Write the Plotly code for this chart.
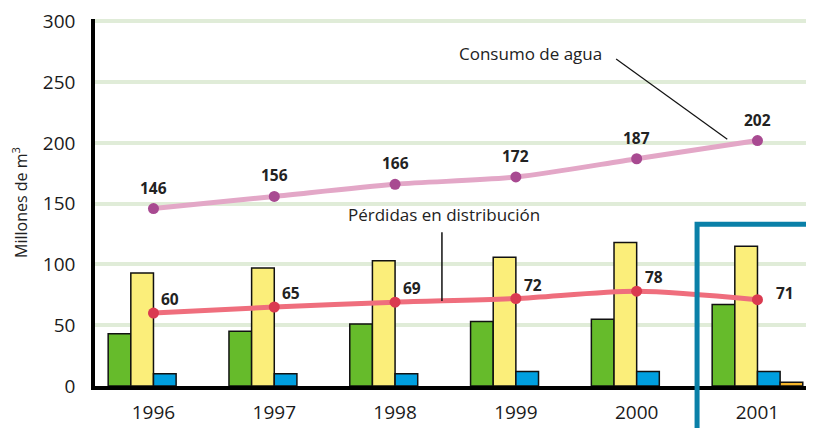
import plotly.graph_objects as go

years = ["1996", "1997", "1998", "1999", "2000", "2001"]
green_vals = [43, 45, 51, 53, 55, 67]
yellow_vals = [93, 97, 103, 106, 118, 115]
blue_vals = [10, 10, 10, 12, 12, 12]
orange_vals = [None, None, None, None, None, 3]
consumo = [146, 156, 166, 172, 187, 202]
perdidas = [60, 65, 69, 72, 78, 71]
y_ticks = [0, 50, 100, 150, 200, 250, 300]

FONT = "Open Sans"
XR = [-0.484, 5.468]
YR = [0, 302]
GRID = "#e0ecd8"

fig = go.Figure()
bar_colors = ["#66bb2b", "#fbee7a", "#009fe0", "#f5b52a"]
for vals, col in zip([green_vals, yellow_vals, blue_vals, orange_vals], bar_colors):
    fig.add_trace(go.Bar(x=years, y=vals, marker=dict(color=col, line=dict(color="#111", width=1.5)),
                         showlegend=False))

fig.add_trace(go.Scatter(x=years, y=consumo, mode="lines+markers",
                         line=dict(color="#e3a7c7", width=5, shape="spline", smoothing=0.8),
                         marker=dict(color="#a84a91", size=11), showlegend=False))
fig.add_trace(go.Scatter(x=years, y=perdidas, mode="lines+markers",
                         line=dict(color="#ef6e7d", width=5, shape="spline", smoothing=0.8),
                         marker=dict(color="#da3a50", size=11), showlegend=False))

annotations = []
for i, v in enumerate(consumo):
    annotations.append(dict(x=i, y=v, text=f"<b>{v}</b>", showarrow=False, yshift=21,
                            font=dict(family=FONT, size=15.5, color="#222")))
red_shift = [(6, 14), (6, 14), (6, 14), (6, 14), (6, 14), (17, 7)]
for i, v in enumerate(perdidas):
    dx, dy = red_shift[i]
    annotations.append(dict(x=i, y=v, text=f"<b>{v}</b>", showarrow=False, xanchor="left",
                            xshift=dx, yshift=dy, font=dict(family=FONT, size=15.5, color="#222")))

annotations.append(dict(x=3.125, y=274, text="Consumo de agua", showarrow=False,
                        font=dict(family=FONT, size=17, color="#222")))
annotations.append(dict(x=2.405, y=141, text="Pérdidas en distribución", showarrow=False,
                        font=dict(family=FONT, size=17, color="#222")))

shapes = [
    dict(type="line", xref="x", yref="y", x0=3.83, y0=269, x1=4.75, y1=203,
         line=dict(color="#111", width=1.2)),
    dict(type="line", xref="x", yref="y", x0=2.388, y0=126.6, x1=2.388, y1=70,
         line=dict(color="#111", width=1.5)),
]
bx = (4.5 - XR[0]) / (XR[1] - XR[0])
by = 133 / (YR[1] - YR[0])
shapes.append(dict(type="path", xref="paper", yref="paper",
                   path=f"M {bx},-0.3 L {bx},{by} L 1.05,{by}",
                   line=dict(color="#0a80a8", width=5)))

# page body keeps the browser's default 8px margin, so the figure is 8px smaller
fig.update_layout(
    width=806, height=420,
    margin=dict(l=87, r=0, t=11, b=42),
    paper_bgcolor="white", plot_bgcolor="white",
    barmode="group", bargap=0.25, bargroupgap=0,
    font=dict(family=FONT, color="#222"),
    annotations=annotations, shapes=shapes,
    xaxis=dict(type="category", range=XR, showgrid=False, zeroline=False, automargin=False,
               showline=True, linecolor="#000", linewidth=4,
               tickfont=dict(family=FONT, size=19, color="#1a1a1a"),
               ticks="", ticklabelstandoff=6),
    yaxis=dict(range=YR, tickvals=y_ticks, showgrid=True, gridcolor=GRID, gridwidth=3.5,
               zeroline=False, showline=True, linecolor="#000", linewidth=3.5, automargin=False,
               tickfont=dict(family=FONT, size=19, color="#1a1a1a"),
               ticks="", ticklabelstandoff=12, ticklabeloverflow="allow",
               title=dict(text="Millones de m<sup>3</sup>", standoff=16,
                          font=dict(family=FONT, size=16, color="#222"))),
)

fig.write_html("out.html")
